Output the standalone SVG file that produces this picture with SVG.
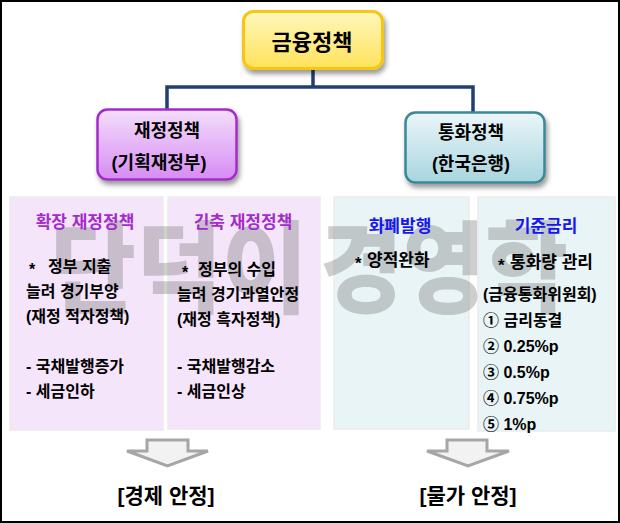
<svg xmlns="http://www.w3.org/2000/svg" width="620" height="523" viewBox="0 0 620 523">
<defs>
<linearGradient id="gY" x1="0" y1="0" x2="0" y2="1"><stop offset="0" stop-color="#fff7bc"/><stop offset="1" stop-color="#ffe25a"/></linearGradient>
<linearGradient id="gP" x1="0" y1="0" x2="0" y2="1"><stop offset="0" stop-color="#f3defb"/><stop offset="1" stop-color="#d78cf4"/></linearGradient>
<linearGradient id="gC" x1="0" y1="0" x2="0" y2="1"><stop offset="0" stop-color="#ebf6f9"/><stop offset="1" stop-color="#a8d5df"/></linearGradient>
<filter id="sh" x="-10%" y="-10%" width="130%" height="140%"><feDropShadow dx="2" dy="4" stdDeviation="2.5" flood-color="#000" flood-opacity="0.4"/></filter>
</defs>
<style>
text{font-family:"Liberation Sans","Noto Sans CJK KR",sans-serif;fill:#000}
.t{font-size:16px;font-weight:bold}
.nt{font-size:18px;font-weight:bold;text-anchor:middle}
.hp{font-size:17px;font-weight:bold;fill:#a42ccc;text-anchor:middle}
.hb{font-size:17px;font-weight:bold;fill:#1616f2;text-anchor:middle}
.pP{fill:#f5e5fb;stroke:#ebebeb;stroke-width:1.5}
.pC{fill:#e8f4f6;stroke:#ebebeb;stroke-width:1.5}
.conn{stroke:#1f3f74;stroke-width:3.5;fill:none;stroke-linejoin:miter}
.arrow{fill:#f2f2f2;stroke:#a6a6a6;stroke-width:3;stroke-linejoin:miter}
.lbl{font-size:21px;font-weight:bold;text-anchor:middle}
.wm{font-size:100px;font-weight:900;fill:#767676;fill-opacity:0.36}
</style>
<rect x="1" y="1" width="618" height="521" fill="#fff" stroke="#000" stroke-width="2"/>

<g id="connectors">
<path class="conn" d="M313 69V87"/>
<path class="conn" d="M167 110V87H473V113"/>
</g>

<g id="top-node">
<rect x="243.5" y="11.5" width="139" height="57" rx="10" fill="url(#gY)" stroke="#f6c512" stroke-width="3" filter="url(#sh)"/>
<text x="312" y="50" style="font-size:22px;font-weight:bold;text-anchor:middle">금융정책</text>
</g>

<g id="fiscal-node">
<rect x="97.5" y="109.5" width="139" height="70" rx="10" fill="url(#gP)" stroke="#a42ccc" stroke-width="2.5" filter="url(#sh)"/>
<text class="nt" x="167" y="137">재정정책</text>
<text class="nt" x="159" y="169">(기획재정부)</text>
</g>

<g id="monetary-node">
<rect x="405.5" y="112.5" width="139" height="70" rx="10" fill="url(#gC)" stroke="#3a8896" stroke-width="2.5" filter="url(#sh)"/>
<text class="nt" x="471" y="139">통화정책</text>
<text class="nt" x="471" y="170">(한국은행)</text>
</g>

<g id="panel-expand">
<rect class="pP" x="10" y="197" width="153" height="233"/>
</g>
<g id="panel-contract">
<rect class="pP" x="168" y="197" width="152" height="232"/>
</g>
<g id="panel-issue">
<rect class="pC" x="334" y="197" width="135" height="232"/>
</g>
<g id="panel-rate">
<rect class="pC" x="478" y="197" width="137" height="234"/>
</g>

<g id="watermark">
<text class="wm" x="50" y="305" textLength="258" lengthAdjust="spacingAndGlyphs">단덕이</text>
<text class="wm" x="320" y="305" textLength="248" lengthAdjust="spacingAndGlyphs">경영학</text>
</g>

<g id="panel-expand-text">
<text class="hp" x="85" y="228">확장 재정정책</text>
<text class="t" y="272"><tspan x="29" dy="3">*</tspan><tspan x="48" dy="-3">정부 지출</tspan></text>
<text class="t" x="26" y="297">늘려 경기부양</text>
<text class="t" x="26" y="322">(재정 적자정책)</text>
<text class="t" x="26" y="372">- 국채발행증가</text>
<text class="t" x="26" y="397">- 세금인하</text>
</g>

<g id="panel-contract-text">
<text class="hp" x="243" y="228">긴축 재정정책</text>
<text class="t" y="275"><tspan x="182" dy="3">*</tspan><tspan x="198" dy="-3">정부의 수입</tspan></text>
<text class="t" x="177" y="300">늘려 경기과열안정</text>
<text class="t" x="177" y="325">(재정 흑자정책)</text>
<text class="t" x="177" y="372">- 국채발행감소</text>
<text class="t" x="177" y="397">- 세금인상</text>
</g>

<g id="panel-issue-text">
<text class="hb" x="400" y="232">화폐발행</text>
<text class="t" y="266" style="font-size:17px"><tspan x="355" dy="3">*</tspan><tspan x="367" dy="-3">양적완화</tspan></text>
</g>

<g id="panel-rate-text">
<text class="hb" x="546" y="232">기준금리</text>
<text class="t" y="268" style="font-size:17px"><tspan x="498" dy="3">*</tspan><tspan x="510" dy="-3">통화량 관리</tspan></text>
<text class="t" x="483" y="300">(금융통화위원회)</text>
<text class="t" x="483" y="326">① 금리동결</text>
<text class="t" x="483" y="352">② 0.25%p</text>
<text class="t" x="483" y="378">③ 0.5%p</text>
<text class="t" x="483" y="404">④ 0.75%p</text>
<text class="t" x="483" y="430">⑤ 1%p</text>
</g>

<g id="arrow-left">
<polygon class="arrow" points="147,440 188,440 188,451 208,451 167.5,466 127,451 147,451"/>
</g>
<g id="arrow-right">
<polygon class="arrow" points="447,440 487,440 487,451 509,451 468,466 427,451 447,451"/>
</g>

<g id="label-economy">
<text class="lbl" x="166" y="503">[경제 안정]</text>
</g>
<g id="label-price">
<text class="lbl" x="468" y="503">[물가 안정]</text>
</g>
</svg>
